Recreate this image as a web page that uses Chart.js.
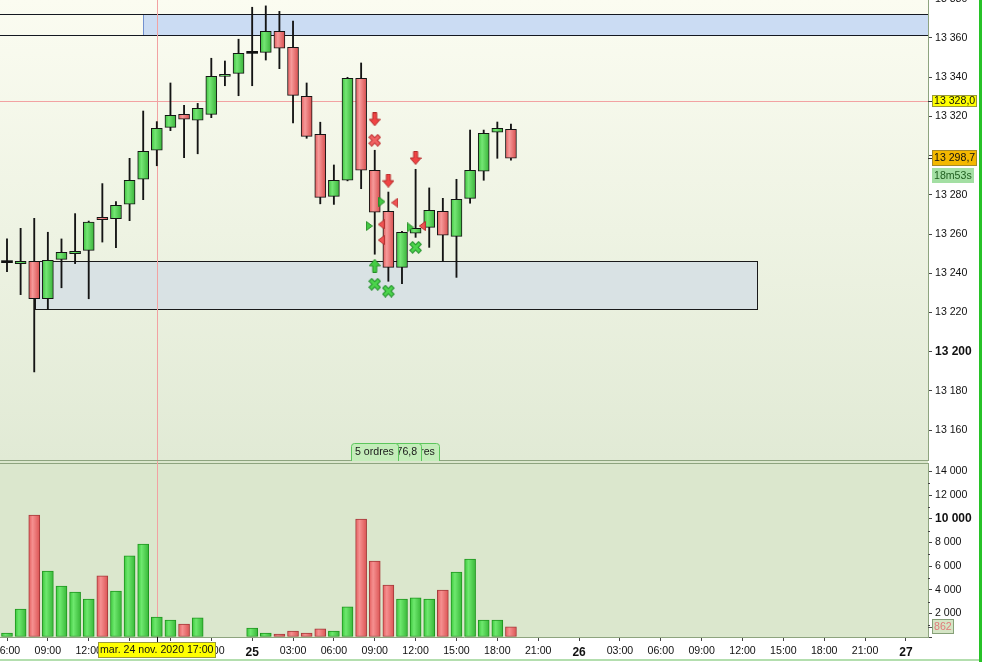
<!DOCTYPE html>
<html lang="fr">
<head>
<meta charset="utf-8">
<title>Bougies 1 heure - 24/25 nov. 2020</title>
<script src="https://cdn.jsdelivr.net/npm/chart.js@4.4.1/dist/chart.umd.min.js"></script>
<style>
  html, body { margin: 0; padding: 0; background: #fff; overflow: hidden; }
  #wrap { position: relative; width: 982px; height: 662px; background: #fff; }
  #priceChart { position: absolute; left: 0; top: 0; }
  #volChart { position: absolute; left: 0; top: 461px; }
  #edgeBottom { position: absolute; left: 0; top: 659px; width: 979px; height: 2px; background: #b3deae; }
  #edgeRight { position: absolute; left: 979px; top: 0; width: 3px; height: 662px; background: #27c227; }
</style>
</head>
<body>
<div id="wrap">
  <canvas id="priceChart" width="979" height="461"></canvas>
  <canvas id="volChart" width="979" height="201"></canvas>
  <div id="edgeBottom"></div>
  <div id="edgeRight"></div>
</div>
<script>
// hours counted from mar. 24 nov. 2020 00:00 (24 = mer. 25 nov. 00:00)
var HOURS  = [6, 7, 8, 9, 10, 11, 12, 13, 14, 15, 16, 17, 18, 19, 20, 21, 22, 23,
              24, 25, 26, 27, 28, 29, 30, 31, 32, 33, 34, 35, 36, 37, 38, 39, 40, 41, 42, 43];
var OPEN   = [13245.4, 13244.9, 13246.1, 13227.0, 13247.1, 13250.0, 13251.7, 13268.5, 13267.8, 13275.2,
              13287.9, 13302.7, 13314.4, 13321.0, 13318.0, 13321.0, 13340.4, 13341.9, 13352.1, 13352.6,
              13363.3, 13355.2, 13330.2, 13310.8, 13279.2, 13287.4, 13339.4, 13292.5, 13271.6, 13243.0,
              13260.4, 13263.4, 13271.6, 13258.8, 13278.2, 13292.0, 13311.9, 13313.4];
var HIGH   = [13257.5, 13262.9, 13268.0, 13260.9, 13257.5, 13270.4, 13266.6, 13285.7, 13276.5, 13298.6,
              13322.7, 13317.3, 13337.0, 13325.6, 13326.6, 13349.6, 13348.2, 13359.3, 13375.6, 13376.3,
              13373.5, 13368.6, 13337.0, 13317.0, 13295.2, 13339.9, 13347.2, 13302.7, 13281.4, 13261.4,
              13293.0, 13283.5, 13278.2, 13287.9, 13313.0, 13313.0, 13317.1, 13316.1];
var LOW    = [13240.8, 13229.1, 13189.7, 13221.6, 13232.6, 13244.9, 13227.0, 13255.9, 13253.0, 13266.8,
              13277.5, 13294.8, 13312.7, 13298.9, 13300.9, 13319.3, 13335.6, 13330.5, 13335.6, 13348.7,
              13344.3, 13316.7, 13308.8, 13275.4, 13275.1, 13287.1, 13283.1, 13249.7, 13235.9, 13234.7,
              13258.3, 13253.2, 13246.1, 13237.9, 13275.7, 13287.4, 13298.6, 13297.6];
var CLOSE  = [13245.4, 13246.1, 13227.0, 13246.6, 13250.7, 13251.2, 13266.1, 13267.3, 13274.6, 13287.4,
              13302.2, 13313.9, 13320.5, 13318.5, 13324.1, 13340.4, 13341.4, 13352.1, 13352.1, 13363.3,
              13354.7, 13330.7, 13309.8, 13278.7, 13287.4, 13339.4, 13292.5, 13271.1, 13243.0, 13260.9,
              13262.9, 13272.1, 13259.4, 13277.7, 13292.5, 13311.3, 13313.9, 13298.7];
var VOLUME = [340, 2370, 10310, 5580, 4310, 3800, 3210, 5160, 3890, 6850,
              7860, 1690, 1440, 1100, 1610, 0, 0, 0, 760, 340,
              250, 510, 340, 680, 510, 2540, 9970, 6420, 4390, 3210,
              3300, 3210, 3970, 5490, 6590, 1440, 1440, 862];

// order markers [hour, price]
var SELL_ARROWS = [[33, 13318.5], [34, 13287.2], [36, 13298.8]];
var SELL_EXITS  = [[33, 13307.8]];
var BUY_ARROWS  = [[33, 13243.8]];
var BUY_EXITS   = [[33, 13234.4], [34, 13230.9], [36, 13253.2]];
var BUY_FILLS   = [[33.53, 13276.5], [32.6, 13264.1], [35.61, 13263.4]];
var SELL_FILLS  = [[34.47, 13276.0], [33.48, 13264.9], [33.48, 13256.9], [36.49, 13264.1]];
var ORDER_TAGS  = [[36, '5 ordres'], [35.2, '-76,8'], [33, '5 ordres']];

var RESIST_ZONE  = { from: 16, top: 13372.0, bottom: 13361.5 };
var SUPPORT_ZONE = { from: 8.08, to: 61.07, top: 13246.1, bottom: 13221.6 };

var CURSOR_HOUR  = 17;
var CURSOR_PRICE = 13328.0;
var CURSOR_DATE  = 'mar. 24 nov. 2020 17:00';
var COUNTDOWN    = '18m53s';

var X_MIN = 5.486, X_MAX = 73.62, X_STEP = 3;
var PRICE_MIN = 13144.8, PRICE_MAX = 13379.3, PRICE_STEP = 20;
var VOL_MAX = 14705, VOL_STEP = 2000;

var FAMILY = '"Liberation Sans", Arial, sans-serif';
var REG = { family: FAMILY, size: 10.6 };
var BOLD = { family: FAMILY, size: 12, weight: 'bold' };
var GREEN_BODY = ['#3fc23f', '#74e674', '#3ab33a'];
var RED_BODY = ['#e25c5c', '#f69a9a', '#d84e4e'];
var GREEN_VOL = ['#3cc83c', '#6ee86e', '#38b838'];
var RED_VOL = ['#e45e5e', '#f59090', '#dc5454'];
var PANEL_LINE = '#8ea47f';
var CURSOR_COLOR = '#f2a2a2';

Chart.defaults.font.family = FAMILY;

function spaced(n) { return String(n).replace(/\B(?=(\d{3})+(?!\d))/g, ' '); }
function priceText(v) { var p = v.toFixed(1).split('.'); return spaced(p[0]) + ',' + p[1]; }
function direction(i) { return CLOSE[i] > OPEN[i] ? 1 : (CLOSE[i] < OPEN[i] ? -1 : 0); }
function hourLabel(v) {
  var h = v % 24;
  if (h === 0) return String(24 + v / 24);
  return (h < 10 ? '0' : '') + h + ':00';
}
// fixed-step ticks covering [lo, hi] (the top one may sit just past the edge)
function stepTicks(lo, hi, step) {
  var t = [];
  for (var v = Math.ceil(lo / step) * step; v <= Math.ceil(hi / step) * step; v += step) t.push({ value: v });
  return t;
}

function hGradient(chart, hour, stops) {
  var px = chart.scales.x.getPixelForValue(hour);
  if (!isFinite(px)) return stops[1];
  var g = chart.ctx.createLinearGradient(px - 5.5, 0, px + 5.5, 0);
  g.addColorStop(0, stops[0]);
  g.addColorStop(0.35, stops[1]);
  g.addColorStop(1, stops[2]);
  return g;
}

function icon(w, h, paint) {
  var cv = document.createElement('canvas');
  cv.width = w; cv.height = h;
  paint(cv.getContext('2d'));
  return cv;
}
function poly(g, pts, fill, stroke) {
  g.beginPath();
  pts.forEach(function (p, i) { if (i) g.lineTo(p[0], p[1]); else g.moveTo(p[0], p[1]); });
  g.closePath();
  g.fillStyle = fill; g.fill();
  g.strokeStyle = stroke; g.lineWidth = 1; g.stroke();
}
function crossIcon(inner, outer) {
  return icon(13, 13, function (g) {
    function lines() { g.beginPath(); g.moveTo(3.5, 3.5); g.lineTo(9.5, 9.5); g.moveTo(9.5, 3.5); g.lineTo(3.5, 9.5); g.stroke(); }
    g.lineCap = 'square';
    g.strokeStyle = outer; g.lineWidth = 4.8; lines();
    g.strokeStyle = inner; g.lineWidth = 2.8; lines();
  });
}
var ARROW_DOWN = icon(12, 14, function (g) {
  poly(g, [[4, 0.5], [8, 0.5], [8, 7], [11.5, 7], [6, 13.5], [0.5, 7], [4, 7]], '#f04444', '#b22a2a');
});
var ARROW_UP = icon(12, 14, function (g) {
  poly(g, [[6, 0.5], [11.5, 7], [8, 7], [8, 13.5], [4, 13.5], [4, 7], [0.5, 7]], '#44cc44', '#258f25');
});
var CROSS_RED = crossIcon('#f06262', '#c23434');
var CROSS_GREEN = crossIcon('#4cd44c', '#22902a');
var TRI_RIGHT = icon(7, 10, function (g) { poly(g, [[0.5, 0.5], [6.5, 5], [0.5, 9.5]], '#44c844', '#2b8f2b'); });
var TRI_LEFT = icon(7, 10, function (g) { poly(g, [[6.5, 0.5], [0.5, 5], [6.5, 9.5]], '#f05252', '#b83434'); });

function markerSet(points, image) {
  return {
    type: 'scatter',
    data: points.map(function (p) { return { x: p[0], y: p[1] }; }),
    pointStyle: image, pointRadius: 6, order: 0
  };
}

function hline(c, x0, x1, y) { y = Math.round(y) + 0.5; c.beginPath(); c.moveTo(x0, y); c.lineTo(x1, y); c.stroke(); }
function vline(c, x, y0, y1) { x = Math.round(x) + 0.5; c.beginPath(); c.moveTo(x, y0); c.lineTo(x, y1); c.stroke(); }

function tag(c, x, yc, w, h, text, fill, stroke, color) {
  var top = Math.round(yc - h / 2);
  c.fillStyle = fill;
  c.fillRect(x, top, w, h);
  if (stroke) { c.strokeStyle = stroke; c.lineWidth = 1; c.strokeRect(x + 0.5, top + 0.5, w - 1, h - 1); }
  c.fillStyle = color;
  c.font = '10.6px ' + FAMILY;
  c.textAlign = 'left';
  c.textBaseline = 'middle';
  c.fillText(text, x + 2, top + h / 2 + 0.5);
}

var pricePanel = {
  id: 'pricePanel',
  beforeDraw: function (chart) {
    var a = chart.chartArea, c = chart.ctx;
    var g = c.createLinearGradient(0, a.top, 0, a.bottom);
    g.addColorStop(0, '#fbfcf1');
    g.addColorStop(1, '#e1ead5');
    c.fillStyle = g;
    c.fillRect(a.left, a.top, a.right - a.left, a.bottom - a.top);
  },
  beforeDatasetsDraw: function (chart) {
    var a = chart.chartArea, c = chart.ctx, xs = chart.scales.x, ys = chart.scales.y;
    c.save();
    c.lineWidth = 1;
    // resistance zone
    var rx = Math.round(xs.getPixelForValue(RESIST_ZONE.from));
    var rt = Math.round(ys.getPixelForValue(RESIST_ZONE.top));
    var rb = Math.round(ys.getPixelForValue(RESIST_ZONE.bottom));
    c.fillStyle = '#cbdcf3';
    c.fillRect(rx, rt, a.right - rx, rb - rt);
    c.strokeStyle = '#7391cf';
    vline(c, rx, rt, rb);
    c.strokeStyle = '#141820';
    hline(c, a.left, a.right, rt);
    hline(c, a.left, a.right, rb);
    // support zone
    var sx0 = Math.round(xs.getPixelForValue(SUPPORT_ZONE.from));
    var sx1 = Math.round(xs.getPixelForValue(SUPPORT_ZONE.to));
    var st = Math.round(ys.getPixelForValue(SUPPORT_ZONE.top));
    var sb = Math.round(ys.getPixelForValue(SUPPORT_ZONE.bottom));
    c.fillStyle = '#d9e2e4';
    c.fillRect(sx0, st, sx1 - sx0, sb - st);
    c.strokeStyle = '#1a1a1a';
    c.strokeRect(sx0 + 0.5, st + 0.5, sx1 - sx0, sb - st);
    // cursor
    c.strokeStyle = CURSOR_COLOR;
    vline(c, xs.getPixelForValue(CURSOR_HOUR), a.top, a.bottom);
    hline(c, a.left, a.right, ys.getPixelForValue(CURSOR_PRICE));
    c.restore();
  },
  afterDraw: function (chart) {
    var a = chart.chartArea, c = chart.ctx, xs = chart.scales.x, ys = chart.scales.y;
    c.save();
    c.strokeStyle = PANEL_LINE; c.lineWidth = 1;
    hline(c, a.left, a.right, a.bottom);
    // order tags at the foot of the panel
    c.font = '10.6px ' + FAMILY;
    ORDER_TAGS.forEach(function (t) {
      var w = Math.round(c.measureText(t[1]).width + 8);
      var x = Math.round(xs.getPixelForValue(t[0]) - w / 2);
      var top = Math.round(a.bottom - 17);
      c.beginPath();
      c.roundRect(x + 0.5, top + 0.5, w, 18, [3, 3, 0, 0]);
      c.fillStyle = '#c4edba'; c.fill();
      c.strokeStyle = '#5cc65c'; c.stroke();
      c.fillStyle = '#1a1a1a'; c.textAlign = 'left'; c.textBaseline = 'middle';
      c.fillText(t[1], x + 4, top + 9.5);
    });
    // axis tags
    var ax = a.right + 4;
    var yCur = ys.getPixelForValue(CURSOR_PRICE);
    var yLast = ys.getPixelForValue(CLOSE[CLOSE.length - 1]);
    c.strokeStyle = '#333';
    hline(c, a.right, ax, yCur);
    hline(c, a.right, ax, yLast);
    tag(c, ax, yCur, 45, 12, priceText(CURSOR_PRICE), '#ffff00', '#9a9a38', '#111');
    tag(c, ax, yLast, 45, 16, priceText(CLOSE[CLOSE.length - 1]), '#f4b800', '#a88a28', '#111');
    tag(c, ax, yLast + 17, 42, 15, COUNTDOWN, '#a3dfa3', null, '#1f5f1f');
    c.restore();
  }
};

var volumePanel = {
  id: 'volumePanel',
  beforeDraw: function (chart) {
    var a = chart.chartArea, c = chart.ctx;
    c.fillStyle = '#dbe7cd';
    c.fillRect(0, 0, a.right, a.bottom);
    c.strokeStyle = PANEL_LINE; c.lineWidth = 1;
    hline(c, a.left, a.right, a.top);
  },
  beforeDatasetsDraw: function (chart) {
    var a = chart.chartArea, c = chart.ctx;
    c.save();
    c.strokeStyle = CURSOR_COLOR; c.lineWidth = 1;
    vline(c, chart.scales.x.getPixelForValue(CURSOR_HOUR), 0, a.bottom);
    c.restore();
  },
  afterDraw: function (chart) {
    var a = chart.chartArea, c = chart.ctx, xs = chart.scales.x, ys = chart.scales.y;
    c.save();
    // minor ticks between the volume labels
    c.strokeStyle = '#444'; c.lineWidth = 1;
    for (var v = VOL_STEP / 2; v < VOL_MAX; v += VOL_STEP) hline(c, a.right, a.right + 2, ys.getPixelForValue(v));
    var cx = xs.getPixelForValue(CURSOR_HOUR);
    c.strokeStyle = '#111';
    vline(c, cx, a.bottom, a.bottom + 5);
    c.font = '10.6px ' + FAMILY;
    var w = Math.round(c.measureText(CURSOR_DATE).width + 5);
    tag(c, Math.round(cx - w / 2), a.bottom + 12.5, w, 16, CURSOR_DATE, '#ffff00', '#9a9a38', '#111');
    var last = VOLUME[VOLUME.length - 1];
    var yl = ys.getPixelForValue(last);
    c.strokeStyle = '#555';
    hline(c, a.right, a.right + 4, yl);
    tag(c, a.right + 4, yl, 22, 15, String(last), '#d5e5c5', '#86a078', '#e07a7a');
    c.restore();
  }
};

var axisFit = function (s) { s.width = 51; s.paddingTop = 0; s.paddingBottom = 0; };

new Chart(document.getElementById('priceChart'), {
  type: 'bar',
  data: {
    datasets: [
      markerSet(SELL_ARROWS, ARROW_DOWN),
      markerSet(SELL_EXITS, CROSS_RED),
      markerSet(BUY_ARROWS, ARROW_UP),
      markerSet(BUY_EXITS, CROSS_GREEN),
      markerSet(BUY_FILLS, TRI_RIGHT),
      markerSet(SELL_FILLS, TRI_LEFT),
      {
        label: 'corps',
        data: HOURS.map(function (h, i) { return { x: h, y: [OPEN[i], CLOSE[i]] }; }),
        grouped: false, barThickness: 11, minBarLength: 2, borderSkipped: false,
        borderColor: '#141414',
        borderWidth: function (ctx) { return direction(ctx.dataIndex) === 0 ? 0 : 1; },
        backgroundColor: function (ctx) {
          if (ctx.type !== 'data') return '#111';
          var d = direction(ctx.dataIndex);
          if (d === 0) return '#111';
          return hGradient(ctx.chart, HOURS[ctx.dataIndex], d > 0 ? GREEN_BODY : RED_BODY);
        },
        order: 1
      },
      {
        label: 'mèches',
        data: HOURS.map(function (h, i) { return { x: h, y: [LOW[i], HIGH[i]] }; }),
        grouped: false, barThickness: 1.2, borderWidth: 0, backgroundColor: '#141414',
        order: 2
      }
    ]
  },
  options: {
    responsive: false, animation: false, events: [],
    layout: { autoPadding: false, padding: { left: 0, right: 0, top: 0, bottom: 1 } },
    plugins: { legend: { display: false }, tooltip: { enabled: false } },
    scales: {
      x: { type: 'linear', display: false, min: X_MIN, max: X_MAX, offset: false, grid: { offset: false } },
      y: {
        position: 'right', min: PRICE_MIN, max: PRICE_MAX,
        grid: { drawOnChartArea: false, drawTicks: true, tickLength: 4, color: '#444' },
        border: { display: true, color: PANEL_LINE },
        ticks: {
          padding: 3, color: '#111', autoSkip: false,
          font: function (c) { return c.tick && c.tick.value % 100 === 0 ? BOLD : REG; },
          // labels under the last-price tag are hidden
          callback: function (v) { return Math.abs(v - CLOSE[CLOSE.length - 1]) < 6 ? '' : spaced(v); }
        },
        afterBuildTicks: function (s) { s.ticks = stepTicks(PRICE_MIN, PRICE_MAX, PRICE_STEP); },
        afterFit: axisFit
      }
    }
  },
  plugins: [pricePanel]
});

new Chart(document.getElementById('volChart'), {
  type: 'bar',
  data: {
    datasets: [{
      label: 'volume',
      data: HOURS.map(function (h, i) { return { x: h, y: VOLUME[i] || null }; }),
      barThickness: 11, borderWidth: 1, borderSkipped: false,
      borderColor: function (ctx) { return direction(ctx.dataIndex) < 0 ? '#a43a3a' : '#1f961f'; },
      backgroundColor: function (ctx) {
        if (ctx.type !== 'data') return '#4cd44c';
        return hGradient(ctx.chart, HOURS[ctx.dataIndex], direction(ctx.dataIndex) < 0 ? RED_VOL : GREEN_VOL);
      }
    }]
  },
  options: {
    responsive: false, animation: false, events: [],
    layout: { autoPadding: false, padding: { left: 0, right: 0, top: 2, bottom: 0 } },
    plugins: { legend: { display: false }, tooltip: { enabled: false } },
    scales: {
      x: {
        type: 'linear', min: X_MIN, max: X_MAX, offset: false,
        grid: { drawOnChartArea: false, drawTicks: true, tickLength: 4, color: '#444', offset: false },
        border: { display: true, color: PANEL_LINE },
        ticks: {
          autoSkip: false, maxRotation: 0, minRotation: 0, padding: 4, color: '#111',
          font: function (c) { return c.tick && c.tick.value % 24 === 0 ? BOLD : REG; },
          callback: hourLabel
        },
        afterBuildTicks: function (s) { s.ticks = stepTicks(X_MIN, X_MAX - X_STEP, X_STEP); },
        afterFit: function (s) { s.height = 25; s.paddingLeft = 0; s.paddingRight = 0; }
      },
      y: {
        position: 'right', min: 0, max: VOL_MAX,
        grid: { drawOnChartArea: false, drawTicks: true, tickLength: 4, color: '#444' },
        border: { display: true, color: PANEL_LINE },
        ticks: {
          padding: 3, color: '#111',
          font: function (c) { return c.tick && c.tick.value === 10000 ? BOLD : REG; },
          callback: function (v) { return v === 0 ? '' : spaced(v); }
        },
        afterBuildTicks: function (s) { s.ticks = stepTicks(0, VOL_MAX - VOL_STEP, VOL_STEP); },
        afterFit: axisFit
      }
    }
  },
  plugins: [volumePanel]
});
</script>
</body>
</html>
